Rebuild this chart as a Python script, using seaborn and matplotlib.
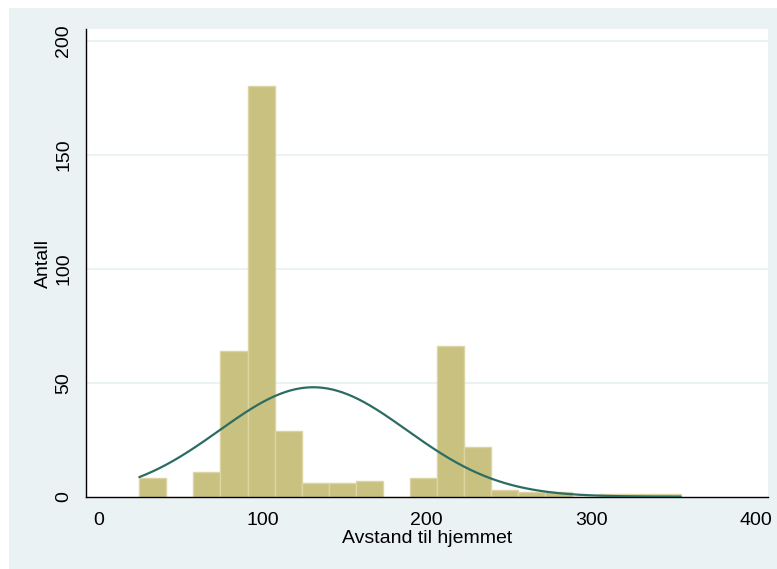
import numpy as np
import pandas as pd
import matplotlib
matplotlib.use("Agg")
import matplotlib.pyplot as plt
from matplotlib.patches import Rectangle
import seaborn as sns

# Histogram of distance to home: 20 equal-width bins
bin_start = 25.0
bin_width = 16.475
n_bins = 20
counts = [8, 0, 11, 64, 180, 29, 6, 6, 7, 0, 8, 66, 22, 3, 2, 2, 0, 1, 1, 1]

# Normal density overlay (frequency scale)
curve_mean = 130.9
curve_sd = 57.1

x_ticks = [0, 100, 200, 300, 400]
y_ticks = [0, 50, 100, 150, 200]
x_label = "Avstand til hjemmet"
y_label = "Antall"

edges = bin_start + bin_width * np.arange(n_bins + 1)
centers = (edges[:-1] + edges[1:]) / 2
df = pd.DataFrame({"avstand": centers, "antall": counts})

sns.set_style("white")
plt.rcParams["font.family"] = ["Liberation Sans", "DejaVu Sans"]

BG = "#EAF2F3"
BAR = "#C9C17F"
BAR_EDGE = "#DCD5A3"
LINE = "#2B6C63"

fig = plt.figure(figsize=(7.77, 5.69), dpi=100, facecolor="white")
fig.patches.append(Rectangle((9 / 777, 0), 1 - 9 / 777, (569 - 8) / 569,
                             transform=fig.transFigure, facecolor=BG,
                             edgecolor="none", zorder=-10))
ax = fig.add_axes([86 / 777, 72.3 / 569, (767.7 - 86) / 777, (496.7 - 29.3) / 569])
ax.set_facecolor("white")

sns.histplot(data=df, x="avstand", weights="antall",
             binwidth=bin_width, binrange=(float(edges[0]), float(edges[-1])), ax=ax,
             color=BAR, edgecolor=BAR_EDGE, linewidth=1.0, alpha=1.0, zorder=2)

n_total = sum(counts)
xs = np.linspace(edges[0], edges[-1], 400)
ys = n_total * bin_width * np.exp(-0.5 * ((xs - curve_mean) / curve_sd) ** 2) / (curve_sd * np.sqrt(2 * np.pi))
sns.lineplot(x=xs, y=ys, ax=ax, color=LINE, linewidth=1.6, zorder=3)

ax.set_xlim(-7.43, 407.5)
ax.set_ylim(0, 205)
ax.set_xticks(x_ticks)
ax.set_yticks(y_ticks)

for yv in y_ticks[1:]:
    ax.axhline(yv, color=BG, linewidth=1.4, zorder=1)

for side in ["top", "right"]:
    ax.spines[side].set_visible(False)
for side in ["left", "bottom"]:
    ax.spines[side].set_color("black")
    ax.spines[side].set_linewidth(1.0)

ax.tick_params(axis="both", direction="out", length=5, width=1.0, color="#555555",
               labelsize=14, labelcolor="black", pad=5)
ax.tick_params(axis="x", pad=6)
for lbl in ax.get_yticklabels():
    lbl.set_rotation(90)
    lbl.set_va("center")

ax.set_xlabel(x_label, fontsize=14, color="black", labelpad=1)
ax.set_ylabel(y_label, fontsize=14, color="black", labelpad=2)

fig.savefig("out.png", dpi=100, facecolor=fig.get_facecolor())
